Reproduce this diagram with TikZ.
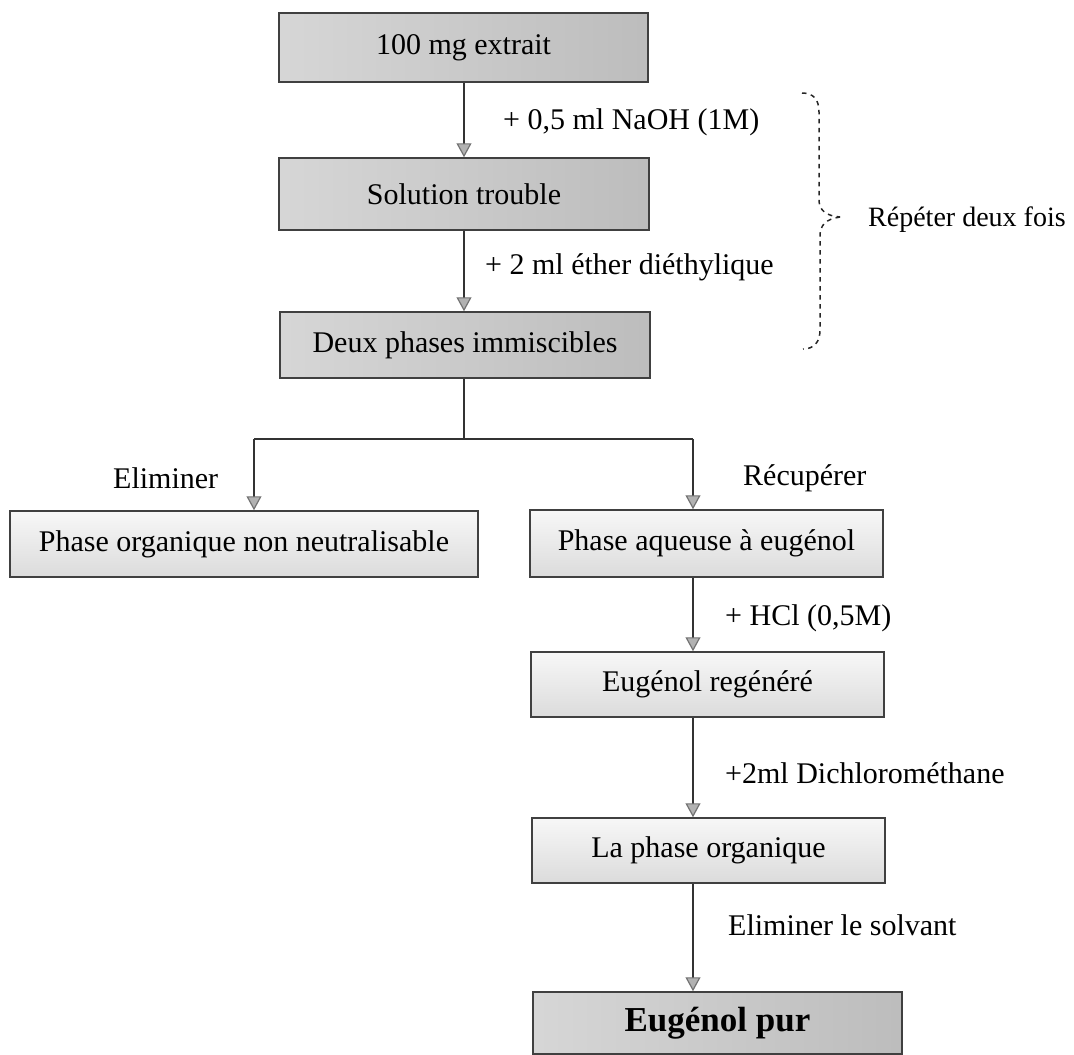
\documentclass[tikz,border=0pt]{standalone}
\usepackage{fontspec}
\setmainfont{Liberation Serif}
\usetikzlibrary{arrows.meta,calc}
\begin{document}
\begin{tikzpicture}[x=1pt,y=-1pt,
  every node/.style={font=\fontsize{30}{34}\selectfont},
  darkbox/.style={draw=black!75,line width=1.5pt,rectangle,inner sep=0pt,
     left color=gray!32,middle color=gray!6,right color=gray!52},
  lightbox/.style={draw=black!75,line width=1.5pt,rectangle,inner sep=0pt,
     top color=gray!6,bottom color=gray!28},
  flow/.style={draw=black!80,line width=1.2pt,
     -{Triangle[width=15pt,length=14pt,fill=gray!60,color=black!55]}},
  plain/.style={draw=black!80,line width=1.2pt},
  lbl/.style={anchor=west,inner sep=0pt},
  brace/.style={draw=black!85,line width=1.5pt,dash pattern=on 4.5pt off 4.5pt}]
\useasboundingbox (0,0) rectangle (1074,1055);

% boxes
\node[darkbox,minimum width=369pt,minimum height=69pt] (b1) at (463.5,47.5) {100 mg extrait};
\node[darkbox,minimum width=370pt,minimum height=72pt] (b2) at (464,194) {Solution trouble};
\node[darkbox,minimum width=370pt,minimum height=66pt] (b3) at (465,345) {Deux phases immiscibles};
\node[lightbox,minimum width=468pt,minimum height=66pt] (b4) at (244,544) {Phase organique non neutralisable};
\node[lightbox,minimum width=353pt,minimum height=67pt] (b5) at (706.5,543.5) {Phase aqueuse à eugénol};
\node[lightbox,minimum width=353pt,minimum height=65pt] (b6) at (707.5,684.5) {Eugénol regénéré};
\node[lightbox,minimum width=353pt,minimum height=65pt] (b7) at (708.5,850.5) {La phase organique};
\node[darkbox,minimum width=369pt,minimum height=62pt,font=\fontsize{35}{40}\selectfont\bfseries] (b8) at (717.5,1023) {Eugénol pur};

% coordinates
\coordinate (cx) at (464,0);
\coordinate (rx) at (693,0);
\coordinate (lx) at (254,0);
\coordinate (jn) at (464,439);
\coordinate (jl) at (254,439);
\coordinate (jr) at (693,439);

% connectors
\draw[flow] (b1.south -| cx) -- (b2.north -| cx);
\draw[flow] (b2.south -| cx) -- (b3.north -| cx);
\draw[plain] (b3.south -| cx) -- (jn);
\draw[plain] (jl) -- (jr);
\draw[flow] (jl) -- (b4.north -| lx);
\draw[flow] (jr) -- (b5.north -| rx);
\draw[flow] (b5.south -| rx) -- (b6.north -| rx);
\draw[flow] (b6.south -| rx) -- (b7.north -| rx);
\draw[flow] (b7.south -| rx) -- (b8.north -| rx);

% labels
\node[lbl] (l1) at (503,122) {+ 0,5 ml NaOH (1M)};
\node[lbl] (l2) at (485,267) {+ 2 ml éther diéthylique};
\node[lbl] (l3) at (113,478) {Eliminer};
\node[lbl] (l4) at (743,478) {Récupérer};
\node[lbl] (l5) at (725,618) {+ HCl (0,5M)};
\node[lbl] (l6) at (725,773) {+2ml Dichlorométhane};
\node[lbl] (l7) at (728,925) {Eliminer le solvant};
\node[lbl,font=\fontsize{28}{32}\selectfont] (l8) at (868,220) {Répéter deux fois};

% brace
\draw[brace] (802,93) .. controls (813,93) and (819,99) .. (819,112)
  -- (819,200) .. controls (819,210) and (826,216) .. (840,217);
\draw[brace] (840,217) .. controls (826,219) and (820,225) .. (820,236)
  -- (820,330) .. controls (820,342) and (814,349) .. (803,349);
\end{tikzpicture}
\end{document}
